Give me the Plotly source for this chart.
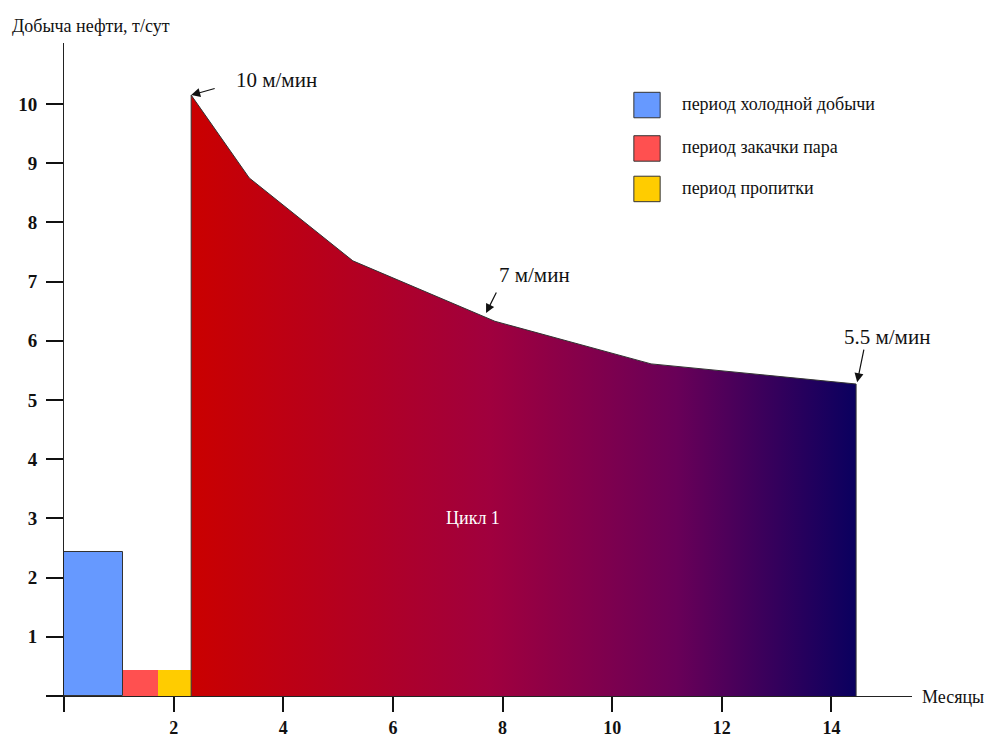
import plotly.graph_objects as go

# Cold production / steam injection / soak periods (months, t/day)
period_names = ["период холодной добычи", "период закачки пара", "период пропитки"]
period_start = [0.0, 1.08, 1.72]
period_end = [1.08, 1.72, 2.32]
period_rate = [2.43, 0.44, 0.44]
period_colors = ["#6699FF", "#FF5050", "#FFCC00"]

# Cycle 1 production curve
cycle_months = [2.32, 2.32, 3.38, 5.27, 7.86, 10.71, 14.45, 14.45]
cycle_rate = [0.0, 10.15, 8.75, 7.35, 6.33, 5.61, 5.27, 0.0]
cycle_label = "Цикл 1"

# Speed annotations: (month, rate, text)
speed_months = [2.32, 7.70, 14.47]
speed_rates = [10.15, 6.47, 5.30]
speed_texts = ["10 м/мин", "7 м/мин", "5.5 м/мин"]

x_ticks = [0, 2, 4, 6, 8, 10, 12, 14]
x_ticklabels = ["", "2", "4", "6", "8", "10", "12", "14"]
y_ticks = [0, 1, 2, 3, 4, 5, 6, 7, 8, 9, 10]
y_ticklabels = ["", "1", "2", "3", "4", "5", "6", "7", "8", "9", "10"]

FONT = "Liberation Serif"

fig = go.Figure()

fig.add_trace(go.Scatter(
    x=cycle_months, y=cycle_rate, mode="lines", fill="toself",
    line=dict(color="#333333", width=1),
    fillgradient=dict(
        type="horizontal",
        colorscale=[[0.0, "rgb(202,0,0)"], [0.45, "rgb(160,0,62)"],
                    [0.73, "rgb(105,0,88)"], [1.0, "rgb(10,0,95)"]],
    ),
    hoverinfo="skip", showlegend=False,
))

for s, e, r, c, n in zip(period_start, period_end, period_rate, period_colors, period_names):
    fig.add_trace(go.Bar(
        x=[(s + e) / 2], y=[r], width=[e - s],
        marker=dict(color=c, line=dict(color="#333333", width=1 if c == "#6699FF" else 0)),
        name=n, showlegend=False,
    ))

annotations = []
arrow_offsets = [(25, -7), (11, -22), (7, -34)]
text_offsets = [(85, -15), (48, -38), (30, -45)]
for mx, ry, t, (ax, ay), (tx, ty) in zip(speed_months, speed_rates, speed_texts, arrow_offsets, text_offsets):
    annotations.append(dict(
        x=mx, y=ry, xref="x", yref="y", text="", showarrow=True,
        ax=ax, ay=ay, arrowhead=2, arrowsize=1.5, arrowwidth=1.2, arrowcolor="#111111",
    ))
    annotations.append(dict(
        x=mx, y=ry, xref="x", yref="y", text=t, showarrow=False,
        xshift=tx, yshift=-ty, font=dict(family=FONT, size=21, color="#111111"),
    ))

annotations.append(dict(
    x=7.46, y=3.0, xref="x", yref="y", text=cycle_label, showarrow=False,
    font=dict(family=FONT, size=18, color="white"),
))
annotations.append(dict(
    x=-0.064, y=1.026, xref="paper", yref="paper", xanchor="left", yanchor="middle",
    text="Добыча нефти, т/сут", showarrow=False,
    font=dict(family=FONT, size=18, color="#111111"),
))
annotations.append(dict(
    x=1.009, y=-0.001, xref="paper", yref="paper", xanchor="left", yanchor="middle",
    text="Месяцы", showarrow=False,
    font=dict(family=FONT, size=18, color="#111111"),
))

# Custom legend with bordered squares
shapes = []
legend_y = [0.905, 0.8385, 0.7765]
for n, c, yc in zip(period_names, period_colors, legend_y):
    shapes.append(dict(
        type="rect", xref="paper", yref="paper",
        x0=0.672, x1=0.703, y0=yc - 0.0195, y1=yc + 0.0195,
        fillcolor=c, line=dict(color="#333333", width=1),
    ))
    annotations.append(dict(
        x=0.726, y=yc + 0.002, xref="paper", yref="paper", xanchor="left", yanchor="middle",
        text=n, showarrow=False, font=dict(family=FONT, size=18, color="#111111"),
    ))

fig.update_layout(
    width=987, height=737,
    margin=dict(l=64, r=75, t=43, b=41),
    plot_bgcolor="white", paper_bgcolor="white",
    barmode="overlay", bargap=0,
    annotations=annotations, shapes=shapes,
    xaxis=dict(
        range=[0, 15.47], showgrid=False, zeroline=False, automargin=False,
        showline=True, linecolor="#222222", linewidth=1,
        tickmode="array", tickvals=x_ticks, ticktext=x_ticklabels,
        ticks="outside", ticklen=15, tickwidth=2, tickcolor="#111111",
        ticklabelstandoff=0,
        tickfont=dict(family=FONT, size=18, color="#111111", weight="bold"),
    ),
    yaxis=dict(
        range=[0, 11.03], showgrid=False, zeroline=False, automargin=False,
        showline=True, linecolor="#222222", linewidth=1,
        tickmode="array", tickvals=y_ticks, ticktext=y_ticklabels,
        ticks="outside", ticklen=17, tickwidth=2, tickcolor="#111111",
        ticklabelstandoff=5,
        tickfont=dict(family=FONT, size=19, color="#111111", weight="bold"),
    ),
)

fig.write_html("out.html")
